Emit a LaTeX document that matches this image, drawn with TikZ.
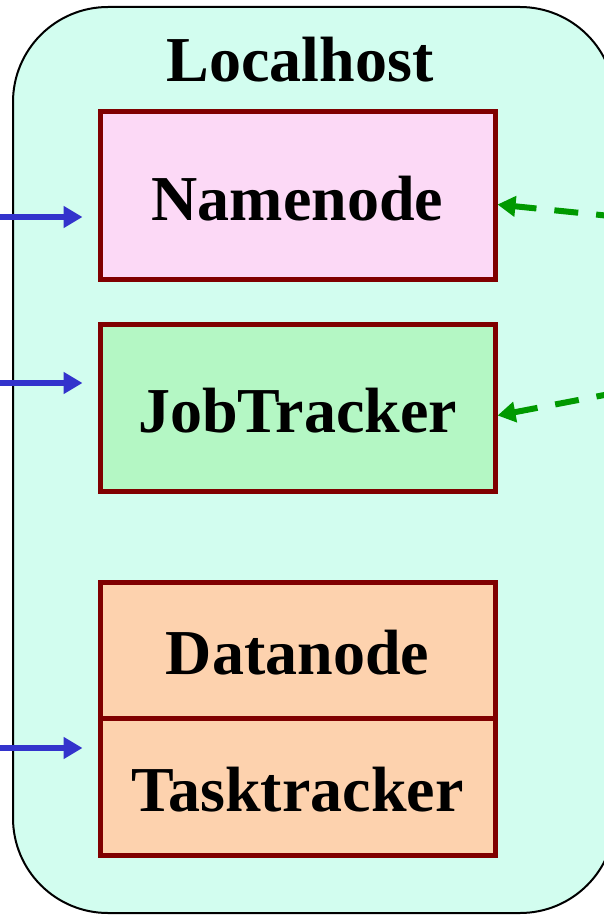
\documentclass[tikz,border=0pt]{standalone}
\usepackage{fontspec}
\setmainfont{Liberation Serif}
\usetikzlibrary{arrows.meta,calc}
\definecolor{hostbg}{HTML}{D2FDEF}
\definecolor{boxline}{HTML}{800000}
\definecolor{nnfill}{HTML}{FCD9F6}
\definecolor{jtfill}{HTML}{B4F7C4}
\definecolor{dnfill}{HTML}{FDD2AE}
\definecolor{inblue}{HTML}{3333CC}
\definecolor{ctlgreen}{HTML}{009900}
\tikzset{
  hostbox/.style={draw=black, line width=2pt, fill=hostbg, rounded corners=95pt},
  svcbox/.style={draw=boxline, line width=5pt, minimum width=395pt, inner sep=0pt},
  svctext/.style={font=\fontsize{64}{70}\selectfont\bfseries, text=black},
  inarrow/.style={draw=inblue, line width=6pt, -{Triangle[length=19pt,width=21pt]}, shorten >=15pt},
  ctlarrow/.style={draw=ctlgreen, line width=6pt, dash pattern=on 24pt off 18pt, -{Triangle[length=18pt,width=20pt]}}
}
\begin{document}
\begin{tikzpicture}[x=1pt,y=-1pt]
\useasboundingbox (0,0) rectangle (604,915);
\clip (0,0) rectangle (604,915);
\draw[hostbox] (13,7) rectangle (615,913);
\node[svctext] (host) at (300,60) {Localhost};
\node[svcbox, fill=nnfill, minimum height=167pt] (nn) at (297.5,195.5) {};
\node[svcbox, fill=jtfill, minimum height=167pt] (jt) at (297.5,407.5) {};
\node[svcbox, fill=dnfill, minimum height=136pt] (dn) at (297.5,650) {};
\node[svcbox, fill=dnfill, minimum height=137pt] (tt) at (297.5,786.5) {};
\node[svctext] (nnt) at ($(nn.center)+(0,3)$) {Namenode};
\node[svctext] (jtt) at ($(jt.center)+(0,3)$) {JobTracker};
\node[svctext] (dnt) at ($(dn.center)+(0,3)$) {Datanode};
\node[svctext] (ttt) at ($(tt.center)+(0,3)$) {Tasktracker};
\coordinate (i1) at (0,217);
\coordinate (i2) at (0,383);
\coordinate (i3) at (0,748);
\draw[inarrow] (i1) -- (nn.west |- i1);
\draw[inarrow] (i2) -- (jt.west |- i2);
\draw[inarrow] (i3) -- (tt.west |- i3);
\coordinate (g1) at (620,217);
\coordinate (g2) at (620,392);
\draw[ctlarrow] (g1) -- ($(nn.east)+(0,9)$);
\draw[ctlarrow] (g2) -- ($(jt.east)+(0,8)$);
\end{tikzpicture}
\end{document}
